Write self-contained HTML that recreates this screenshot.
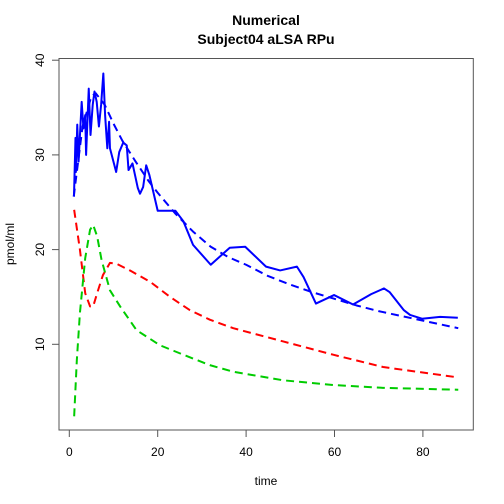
<!DOCTYPE html>
<html><head><meta charset="utf-8"><style>
body{margin:0;background:#fff}
svg{display:block;font-family:"Liberation Sans",sans-serif}
</style></head><body>
<svg id="chart" width="504" height="504" viewBox="0 0 504 504">
<text x="266" y="25" text-anchor="middle" font-weight="bold" font-size="14">Numerical</text>
<text x="266" y="44" text-anchor="middle" font-weight="bold" font-size="14">Subject04 aLSA RPu</text>
<rect x="59" y="58.5" width="414.3" height="371.5" fill="none" stroke="#555" stroke-width="1"/>
<g id="xaxis"></g>
<g id="yaxis"></g>
<text x="266" y="485" text-anchor="middle" font-size="12">time</text>
<text transform="translate(14,244) rotate(-90)" text-anchor="middle" font-size="12">pmol/ml</text>
<g id="series"></g>
</svg>
<script>
const xTicks=[0,20,40,60,80];
const yTicks=[10,20,30,40];
const obsT=[1.06,1.4,1.5,1.8,2.1,2.8,3.2,3.6,3.8,4.4,4.8,5.3,5.7,6.2,6.7,7.2,7.7,8.1,8.6,9.0,9.2,10.6,11.3,12.2,13,13.4,14.3,15.5,16,16.7,17.4,18.1,20,24,25.8,28,32,36.3,39.8,44.5,47.7,51.5,53,55.8,59.9,64.2,68.3,71.2,72.5,75.7,77.1,79.8,83.9,87.9];
const obsV=[25.6,31.8,28.2,33.2,29.3,35.6,32.8,34.2,30,37.0,32.1,35.3,36.7,35.6,33,35.3,38.6,34.2,30.7,33.5,30.7,28.2,30.3,31.3,31,28.4,29.1,26.5,25.9,26.6,28.9,27.9,24.1,24.1,23,20.5,18.4,20.2,20.3,18.2,17.8,18.2,17.1,14.3,15.2,14.2,15.3,15.9,15.5,13.6,13.1,12.7,12.9,12.8];
const fitT=[1,3,5,6,8,10,12,15,18,20,24,28,32,36,40,45,50,55,60,65,70,75,80,88];
const fitV=[25.6,33,36.2,36.5,35.3,33.3,31.5,29.3,27.2,26,23.8,21.9,20.3,19.2,18.4,17.2,16.3,15.5,14.8,14.1,13.5,13,12.5,11.7];
const redT=[1.1,2.4,3.6,4.7,5.4,6.3,7.6,9.2,10.7,13.7,18.3,22.8,27.3,31.8,37.1,48.4,59.7,71,88];
const redV=[24.2,20,15.4,14.0,14.0,15.4,17.3,18.6,18.5,17.8,16.6,15.0,13.6,12.6,11.7,10.3,8.9,7.6,6.5];
const grnT=[1.1,1.7,2.4,3.6,4.7,5.4,6.3,7.3,9.2,11.5,15.2,20.5,25.8,31.8,37.1,48.4,59.7,71,88];
const grnV=[2.4,8.3,13.3,19.1,22.1,22.6,21.4,18.9,15.7,14.0,11.5,9.9,8.9,7.8,7.1,6.2,5.7,5.4,5.2];
const X=t=>69.3+4.42*t;
const Y=v=>344.3-(v-10)*9.47;
const NS="http://www.w3.org/2000/svg";
function mk(tag,parent){const e=document.createElementNS(NS,tag);parent.appendChild(e);return e;}
const xa=document.getElementById('xaxis'),ya=document.getElementById('yaxis'),sg=document.getElementById('series');
const xl=mk('line',xa);xl.setAttribute('x1',X(xTicks[0]));xl.setAttribute('x2',X(xTicks[xTicks.length-1]));xl.setAttribute('y1',430);xl.setAttribute('y2',430);xl.setAttribute('stroke','#555');
xTicks.forEach(t=>{const l=mk('line',xa);l.setAttribute('x1',X(t));l.setAttribute('x2',X(t));l.setAttribute('y1',430);l.setAttribute('y2',437);l.setAttribute('stroke','#555');
const tx=mk('text',xa);


tx.setAttribute('x',X(t));tx.setAttribute('y',456);tx.setAttribute('text-anchor','middle');tx.setAttribute('font-size','12');tx.textContent=t;});
const yl=mk('line',ya);yl.setAttribute('x1',59);yl.setAttribute('x2',59);yl.setAttribute('y1',Y(yTicks[0]));yl.setAttribute('y2',Y(yTicks[yTicks.length-1]));yl.setAttribute('stroke','#555');
yTicks.forEach(v=>{const l=mk('line',ya);l.setAttribute('x1',52);l.setAttribute('x2',59);l.setAttribute('y1',Y(v));l.setAttribute('y2',Y(v));l.setAttribute('stroke','#555');
const tx=mk('text',ya);


tx.setAttribute('transform',`translate(44,${Y(v)}) rotate(-90)`);tx.setAttribute('text-anchor','middle');tx.setAttribute('font-size','12');tx.textContent=v;});
function line(ts,vs,color,dash,name){const p=mk('polyline',sg);


p.setAttribute('points',ts.map((t,i)=>X(t)+','+Y(vs[i])).join(' '));p.setAttribute('fill','none');p.setAttribute('stroke',color);p.setAttribute('stroke-width','2');p.setAttribute('stroke-linejoin','round');if(dash)p.setAttribute('stroke-dasharray','8,5');}
line(redT,redV,'#ff0000',true,'red-dashed-series');
line(grnT,grnV,'#00cc00',true,'green-dashed-series');
line(fitT,fitV,'#0000ff',true,'blue-dashed-fit');
line(obsT,obsV,'#0000ff',false,'blue-solid-observed');
</script>
</body></html>
